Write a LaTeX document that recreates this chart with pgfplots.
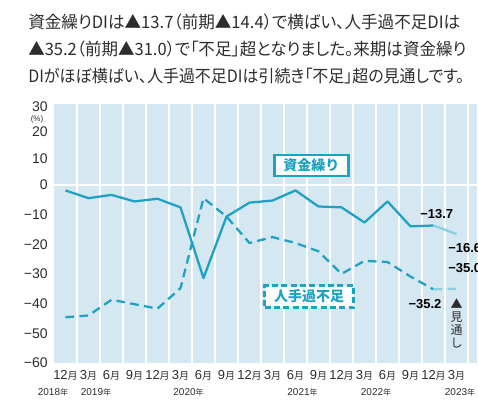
\documentclass[border=0pt]{standalone}
\usepackage{pgfplots}
\pgfplotsset{compat=1.18}
\usepackage{fontspec}
\setmainfont{Liberation Sans}
\newfontfamily\jp{Noto Sans CJK JP}
\newfontfamily\jpt{Noto Sans CJK JP}[RawFeature=+palt]
\definecolor{bgc}{RGB}{213,231,240}
\definecolor{teal1}{RGB}{30,162,196}
\definecolor{teallt}{RGB}{140,206,228}
\definecolor{txt}{RGB}{45,45,45}
\newcommand\M[1]{#1{\jp\fontsize{7.5pt}{8pt}\selectfont 月}}
\newcommand\Y[1]{#1{\jp\fontsize{6pt}{7pt}\selectfont 年}}
\begin{document}
\begin{tikzpicture}
\begin{axis}[
  at={(40.5pt,-272.25pt)}, anchor=south west,
  scale only axis, width=317.4pt, height=194.25pt,
  xmin=-0.5, xmax=17.9, ymin=-60, ymax=27.2,
  axis background/.style={fill=bgc},
  axis line style={draw=none},
  major tick length=0pt, minor tick length=0pt,
  xtick={0,...,17},
  xticklabels={\M{12},\M{3},\M{6},\M{9},\M{12},\M{3},\M{6},\M{9},\M{12},\M{3},\M{6},\M{9},\M{12},\M{3},\M{6},\M{9},\M{12},\M{3}},
  xticklabel style={anchor=base, yshift=-12.4pt, font=\fontsize{9.75pt}{11pt}\selectfont, text=txt, inner sep=0pt},
  minor xtick={0.5,1.5,...,17.5},
  xminorgrids, minor x grid style={white, line width=1pt},
  ytick={-60,-50,-40,-30,-20,-10,0,8.75,17.85,26.3},
  yticklabels={−60,−50,−40,−30,−20,−10,0,10,20,30},
  yticklabel style={anchor=east, inner sep=0pt, xshift=-4.5pt, font=\fontsize{10.5pt}{12pt}\selectfont, text=txt},
  extra y ticks={0}, extra y tick labels={},
  extra y tick style={ymajorgrids, major grid style={white, line width=1.9pt}},
]
\addplot[teal1, line width=1.7pt, line join=round] coordinates {
 (0,-1.9) (1,-4.5) (2,-3.4) (3,-5.6) (4,-4.7) (5,-7.6) (6,-31.4) (7,-10.7)
 (8,-6.0) (9,-5.3) (10,-1.9) (11,-7.3) (12,-7.6) (13,-12.7) (14,-5.6) (15,-14.0) (16,-13.7)};
\addplot[teallt, line width=1.7pt] coordinates {(16,-13.7) (17,-16.6)};
\addplot[teal1, line width=1.7pt, line join=round, dash pattern=on 6.5pt off 4pt] coordinates {
 (0,-44.6) (1,-44.0) (2,-38.7) (3,-40.2) (4,-41.7) (5,-34.8) (6,-4.5) (7,-10.7)
 (8,-19.6) (9,-17.6) (10,-19.6) (11,-22.4) (12,-30.0) (13,-25.6) (14,-26.0) (15,-30.9) (16,-35.2)};
\addplot[teallt, line width=1.7pt, dash pattern=on 6.5pt off 4pt] coordinates {(16,-35.2) (17,-35.0)};
\end{axis}
\begin{scope}[x=0.75pt, y=-0.75pt]
% title
\begin{scope}[every node/.style={anchor=west, inner sep=0pt, text=txt, font=\jpt\fontsize{12.75pt}{14pt}\selectfont}]
\node at (28,22) {\resizebox{324pt}{\height}{資金繰りDIは▲13.7（前期▲14.4）で横ばい、人手過不足DIは}};
\node at (28,49.5) {\resizebox{328.5pt}{\height}{▲35.2（前期▲31.0）で「不足」超となりました。来期は資金繰り}};
\node at (28,76.5) {\resizebox{327pt}{\height}{DIがほぼ横ばい、人手過不足DIは引続き「不足」超の見通しです。}};
\end{scope}
\node[text=txt, inner sep=0pt, font=\fontsize{6pt}{6.5pt}\selectfont] at (37,119.5) {(\%)};
% year labels
\begin{scope}[every node/.style={inner sep=0pt, text=txt, font=\fontsize{7.5pt}{8pt}\selectfont}]
\node at (53,392) {\Y{2018}};
\node at (96,392) {\Y{2019}};
\node at (188.5,392) {\Y{2020}};
\node at (302.5,392) {\Y{2021}};
\node at (376,392) {\Y{2022}};
\node at (460,392) {\Y{2023}};
\end{scope}
% series labels
\node[draw=teal1, fill=white, line width=2.2pt, minimum width=55.5pt, minimum height=15.75pt, inner sep=0pt, text=teal1, font=\jp\bfseries\fontsize{10.5pt}{12pt}\selectfont] at (311.3,165.5) {資金繰り};
\node[draw=teal1, fill=white, line width=2.2pt, dash pattern=on 4.5pt off 2.5pt, minimum width=66.75pt, minimum height=16.5pt, inner sep=0pt, text=teal1, font=\jp\bfseries\fontsize{10.5pt}{12pt}\selectfont] at (309,296.5) {人手過不足};
% value labels
\begin{scope}[every node/.style={text=black, inner sep=0pt, font=\bfseries\fontsize{9.75pt}{11pt}\selectfont}]
\node at (436.7,214) {−13.7};
\node[anchor=west] at (448,248) {−16.6};
\node[anchor=west] at (448,268) {−35.0};
\node at (425,304) {−35.2};
\end{scope}
\node[text=txt, inner sep=0pt, align=center, font=\jp\fontsize{9pt}{9.8pt}\selectfont] at (456.7,323.5) {▲\\見\\通\\し};
\pgfresetboundingbox
\path[use as bounding box] (0,0) rectangle (478,405);
\end{scope}
\end{tikzpicture}
\end{document}
